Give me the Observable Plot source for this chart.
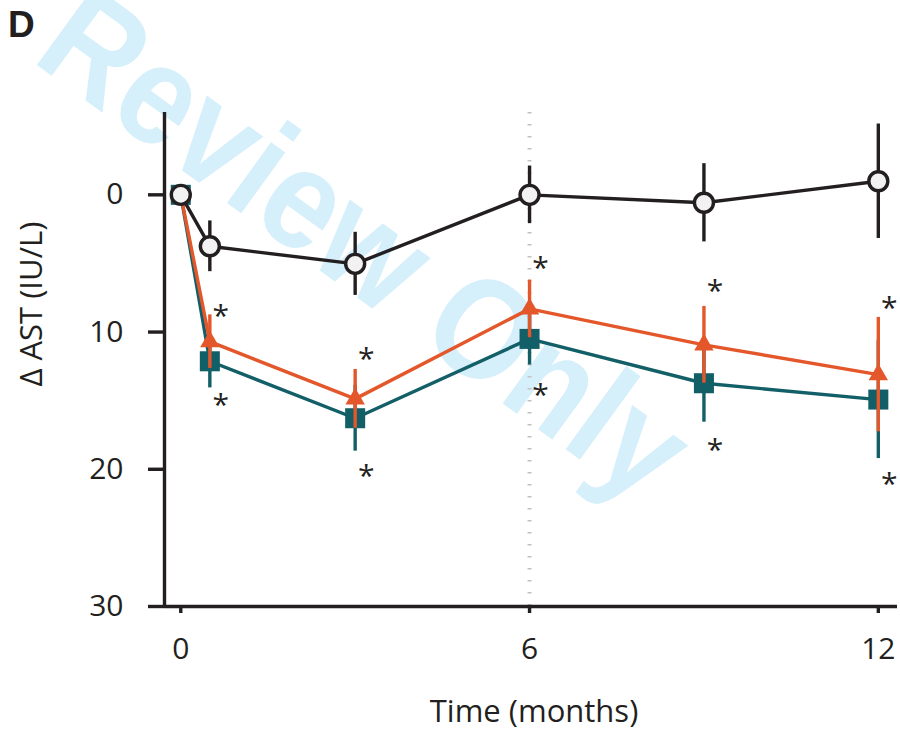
<!DOCTYPE html>
<html>
<head>
<meta charset="utf-8">
<script src="https://cdn.jsdelivr.net/npm/d3@7"></script>
<script src="https://cdn.jsdelivr.net/npm/@observablehq/plot@0.6"></script>
<style>
  html, body { margin: 0; padding: 0; background: #fff; }
  #chart svg { display: block; overflow: visible; }
</style>
</head>
<body>
<div id="chart"></div>
<script>
// Visit times (months)
const months = [0, 0.5, 3, 6, 9, 12];

// Mean change in AST (IU/L) and error-bar half-widths per group
const controlMean = [0, 3.75, 5.03, 0, 0.58, -0.99];
const controlErr  = [0, 1.85, 2.3, 2.1, 2.85, 4.17];
const orangeMean  = [0, 10.7, 14.87, 8.31, 10.93, 13.1];
const orangeErr   = [0, 1.95, 2.14, 2.1, 2.8, 4.17];
const tealMean    = [0, 12.13, 16.28, 10.5, 13.73, 14.92];
const tealErr     = [0, 1.94, 2.4, 1.9, 2.84, 4.3];

// Significance markers (y position of each asterisk, in IU/L)
const starAbove = [null, 8.31, 11.44, 4.79, 6.47, 7.71];
const starBelow = [null, 14.77, 19.95, 14.05, 18.05, 20.53];

// Axes
const xDomain = [-0.28, 12.33];
const yDomain = [-6, 30];
const xTicks = [0, 6, 12];
const yTicks = [0, 10, 20, 30];
const xTitle = "Time (months)";
const yTitle = "\u0394 AST (IU/L)";
const panelLabel = "D";
const watermark = "Review Only";

const ink = "#231f20";
const orange = "#e3572a";
const teal = "#135f67";
const lw = 3.4;

const series = (mean, err) => months.map((t, i) => ({t, m: mean[i], e: err[i]}));
const control = series(controlMean, controlErr);
const orangeRows = series(orangeMean, orangeErr);
const tealRows = series(tealMean, tealErr);
const stars = months.map((t, i) => ({t, up: starAbove[i], down: starBelow[i]})).filter(d => d.up != null);

const errBars = (rows, color) => Plot.ruleX(rows.filter(d => d.e > 0), {
  x: "t", y1: d => d.m - d.e, y2: d => d.m + d.e, stroke: color, strokeWidth: lw
});

const font = "'Open Sans', sans-serif";

const chart = Plot.plot({
  width: 900,
  height: 731,
  marginLeft: 164,
  marginRight: 3,
  marginTop: 112,
  marginBottom: 125,
  style: {fontFamily: font, color: ink, background: "transparent"},
  x: {domain: xDomain},
  y: {domain: yDomain, reverse: true},
  marks: [
    // reference line at 6 months
    Plot.ruleX([6], {stroke: "#c2c2c2", strokeWidth: 4, strokeDasharray: "1.5,10.5"}),
    // axis lines
    Plot.ruleX([xDomain[0]], {stroke: ink, strokeWidth: lw}),
    Plot.ruleY([yDomain[1]], {stroke: ink, strokeWidth: lw}),
    Plot.axisY({ticks: yTicks, tickSize: 16, tickPadding: 25, strokeWidth: lw, fontSize: 30, label: null, fill: ink}),
    Plot.axisX({ticks: xTicks, tickSize: 7, tickPadding: 24, strokeWidth: lw, fontSize: 30, label: null, fill: ink}),
    Plot.text([yTitle], {frameAnchor: "left", rotate: -90, dx: -132, dy: 27, fontSize: 31, lineAnchor: "middle", fill: ink}),
    Plot.text([xTitle], {frameAnchor: "bottom", dx: 3, dy: 106, fontSize: 31, lineAnchor: "middle", fill: ink}),
    // teal group
    Plot.line(tealRows, {x: "t", y: "m", stroke: teal, strokeWidth: lw}),
    errBars(tealRows, teal),
    Plot.dot(tealRows, {x: "t", y: "m", symbol: "square", r: 11.3, fill: teal}),
    // orange group
    Plot.line(orangeRows, {x: "t", y: "m", stroke: orange, strokeWidth: lw}),
    errBars(orangeRows, orange),
    Plot.dot(orangeRows, {x: "t", y: "m", symbol: "triangle", r: 7.2, fill: orange}),
    // control group
    Plot.line(control, {x: "t", y: "m", stroke: ink, strokeWidth: lw}),
    errBars(control, ink),
    Plot.dot(control, {x: "t", y: "m", r: 9.5, fill: "#f2f2f2", stroke: ink, strokeWidth: lw}),
    // asterisks
    Plot.text(stars, {x: "t", y: "up", text: () => "*", dx: 11, dy: 8, fontSize: 30, lineAnchor: "middle", fill: ink}),
    Plot.text(stars, {x: "t", y: "down", text: () => "*", dx: 11, dy: 8, fontSize: 30, lineAnchor: "middle", fill: ink})
  ]
});

const svg = d3.select(chart);
// watermark sits beneath every mark
svg.insert("text", ":first-child")
  .attr("transform", "translate(30,60) rotate(36) scale(0.9,1)")
  .attr("text-anchor", "start")
  .attr("font-family", "'Liberation Sans', Arial, sans-serif")
  .attr("font-weight", "bold")
  .attr("font-size", 142)
  .attr("fill", "#d5effb")
  .text(watermark);
// panel letter
svg.append("text")
  .attr("x", 8).attr("y", 37)
  .attr("text-anchor", "start")
  .attr("font-family", "'Liberation Sans', Arial, sans-serif")
  .attr("font-weight", "bold")
  .attr("font-size", 37)
  .attr("fill", ink)
  .text(panelLabel);

document.getElementById("chart").append(chart);
</script>
</body>
</html>
